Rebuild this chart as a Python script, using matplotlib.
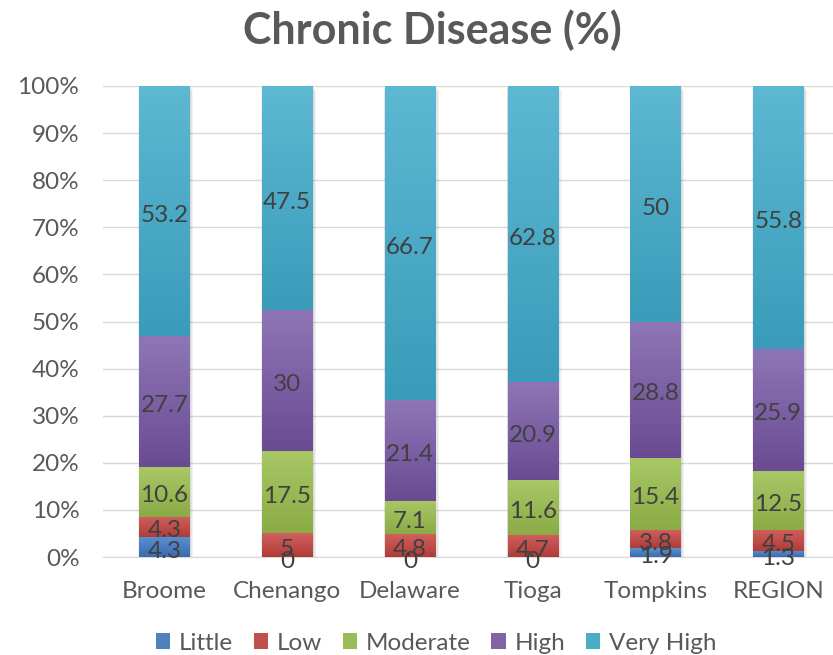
import matplotlib
matplotlib.use("Agg")
import matplotlib.pyplot as plt
import matplotlib.transforms as mtransforms
import numpy as np
from matplotlib.colors import LinearSegmentedColormap

categories = ["Broome", "Chenango", "Delaware", "Tioga", "Tompkins", "REGION"]
series_names = ["Little", "Low", "Moderate", "High", "Very High"]
little = [4.3, 0, 0, 0, 1.9, 1.3]
low = [4.3, 5, 4.8, 4.7, 3.8, 4.5]
moderate = [10.6, 17.5, 7.1, 11.6, 15.4, 12.5]
high = [27.7, 30, 21.4, 20.9, 28.8, 25.9]
very_high = [53.2, 47.5, 66.7, 62.8, 50, 55.8]
values = [little, low, moderate, high, very_high]
yticks = [0, 10, 20, 30, 40, 50, 60, 70, 80, 90, 100]
ytick_labels = [f"{t}%" for t in yticks]

base_colors = ["#4F81BD", "#C0504D", "#9BBB59", "#8064A2", "#4BACC6"]
top_colors = ["#5A91D2", "#D0605D", "#A8C866", "#8E76B6", "#5DB8D2"]
bot_colors = ["#3A6BAE", "#B03C39", "#8AAB45", "#6A4B92", "#3A9CBA"]

FONT = "Lato"
plt.rcParams["font.family"] = [FONT, "DejaVu Sans"]
FS = 17.5

fig = plt.figure(figsize=(8.33, 6.55), dpi=100)
ax = fig.add_axes([103 / 833, 1 - 557 / 655, 730 / 833, (557 - 86) / 655])

x = np.arange(len(categories))
width = 0.41
totals = np.sum(np.array(values), axis=0)

# soft shadow behind each stacked bar
for k, a in enumerate([0.05, 0.05, 0.05]):
    ax.bar(x + 0.004 * (k + 1), 100, width + 0.012 * (k + 1), bottom=-0.25 * (k + 1),
           color="black", alpha=a, linewidth=0, zorder=1.5)

label_tr = mtransforms.offset_copy(ax.transData, fig=fig, x=0, y=-3, units="points")
bottom = np.zeros(len(categories))
handles = []
for i, (name, vals) in enumerate(zip(series_names, values)):
    pct = np.array(vals) / totals * 100
    bars = ax.bar(x, pct, width, bottom=bottom, color=base_colors[i], label=name,
                  zorder=2, linewidth=0)
    handles.append(bars)
    cmap = LinearSegmentedColormap.from_list(f"g{i}", [bot_colors[i], top_colors[i]])
    grad = np.linspace(0, 1, 64).reshape(-1, 1)
    for b in bars:
        bx, by, bw, bh = b.get_x(), b.get_y(), b.get_width(), b.get_height()
        if bh <= 0:
            continue
        ax.imshow(grad, cmap=cmap, origin="lower", aspect="auto",
                  extent=(bx, bx + bw, by, by + bh), zorder=3, interpolation="bilinear")
    for xi, b, v in zip(x, bars, vals):
        yc = b.get_y() + b.get_height() / 2
        ax.text(xi, yc, f"{v:g}", ha="center", va="center", fontsize=FS,
                color="#404040", zorder=5, transform=label_tr)
    bottom += pct

ax.set_xlim(-0.5, 5.445)
ax.set_ylim(0, 100)
ax.set_yticks(yticks)
ax.set_yticklabels(ytick_labels)
ax.set_xticks(x)
ax.set_xticklabels(categories)
ax.tick_params(axis="y", length=0, pad=17, labelsize=FS, labelcolor="#595959")
ax.tick_params(axis="x", length=0, pad=17.5, labelsize=FS, labelcolor="#595959")
ax.grid(axis="y", color="#D9D9D9", linewidth=1, zorder=0)
ax.set_axisbelow(True)
for s in ["top", "right", "left"]:
    ax.spines[s].set_visible(False)
ax.spines["bottom"].set_color("#D9D9D9")
ax.spines["bottom"].set_zorder(1)

fig.text(432 / 833, 1 - 30 / 655, "Chronic Disease (%)", ha="center", va="center",
         fontsize=31, fontweight="bold", color="#595959")

leg = fig.legend(handles=handles, labels=series_names, loc="center", ncol=5,
                 bbox_to_anchor=(436 / 833, 1 - 643 / 655), frameon=False,
                 fontsize=FS, handlelength=0.6, handleheight=0.6,
                 handletextpad=0.35, columnspacing=0.85)
for t in leg.get_texts():
    t.set_color("#595959")

fig.savefig("out.png", dpi=100)
